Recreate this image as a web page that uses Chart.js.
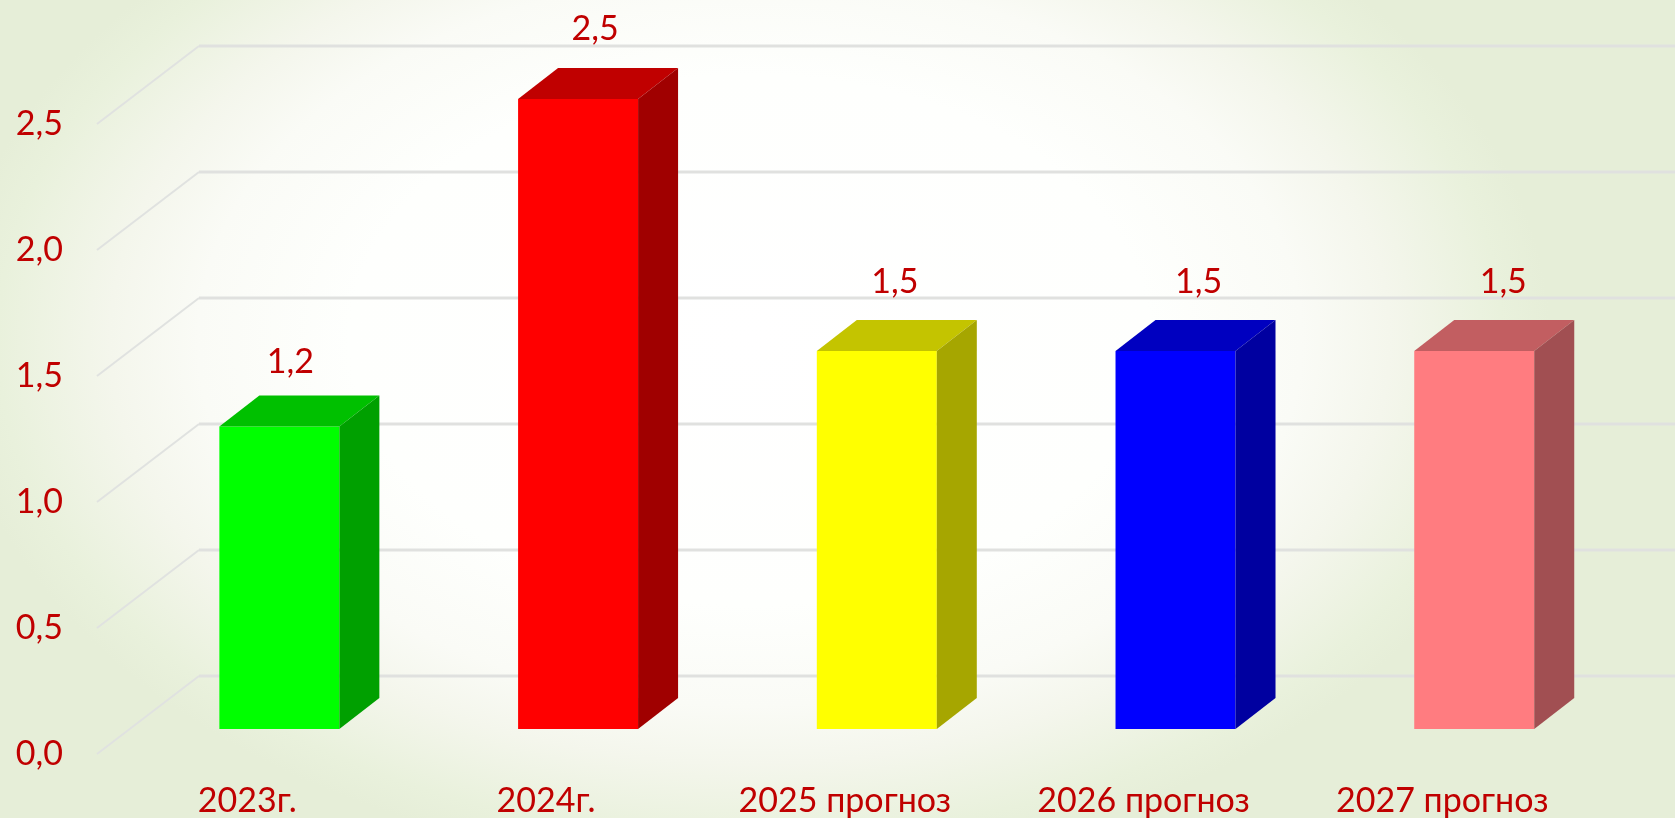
<!DOCTYPE html>
<html lang="ru">
<head>
<meta charset="utf-8">
<title>Chart</title>
<style>
html,body{margin:0;padding:0;width:1675px;height:818px;overflow:hidden;
background:radial-gradient(ellipse 800px 530px at 750px 340px,#ffffff 0%,#fefffd 50%,#fafbf6 69%,#f4f6ec 80%,#e9f1dc 94%,#e6eed8 100%) #e6eed8;}
canvas{display:block}
</style>
<script src="https://cdn.jsdelivr.net/npm/chart.js@4/dist/chart.umd.min.js"></script>
</head>
<body>
<canvas id="c" width="1675" height="818"></canvas>
<script>
const categories = ['2023г.', '2024г.', '2025 прогноз', '2026 прогноз', '2027 прогноз'];
const values = [1.2, 2.5, 1.5, 1.5, 1.5];
const frontColors = ['#00FF00', '#FF0000', '#FFFF00', '#0000FF', '#FF7C80'];
const sideColors = ['#00A000', '#A00000', '#A6A600', '#0000A0', '#A14F52'];
const topColors = ['#00C000', '#C00000', '#C4C400', '#0000C0', '#C25E61'];
const labelNudgeX = [11, 17, 18, 23, 29];
const labelNudgeY = [-65, -70, -69, -69, -69];

const TEXT = '#C00000', FONT = 'Lato, Carlito, sans-serif', SIZE = 34;
const fmt = v => Number(v).toFixed(1).replace('.', ',');

const depth = {
  plugins: {id: 'depth',
    beforeDatasetsDraw(chart) {
      const {ctx, scales: {y}, chartArea: a} = chart;
      ctx.save();
      y.ticks.forEach(t => {
        const py = y.getPixelForValue(t.value);
        ctx.strokeStyle = '#E0E2E0';
        ctx.lineWidth = 2;
        ctx.beginPath();
        ctx.moveTo(a.left - 33, py + 25);
        ctx.lineTo(a.left + 69, py - 53);
        ctx.stroke();
        ctx.lineWidth = 3;
        ctx.strokeStyle = '#E0E1DF';
        ctx.beginPath();
        ctx.moveTo(a.left + 69, py - 53);
        ctx.lineTo(chart.width, py - 53);
        ctx.stroke();
      });
      ctx.restore();
    },
    afterDatasetsDraw(chart) {
      const {ctx} = chart, bars = chart.getDatasetMeta(0).data;
      const dx = 40, dy = 31;
      ctx.save();
      bars.forEach((b, i) => {
        const l = b.x - b.width / 2, r = b.x + b.width / 2, t = b.y, f = b.base;
        ctx.fillStyle = topColors[i];
        ctx.beginPath();
        ctx.moveTo(l, t); ctx.lineTo(l + dx, t - dy); ctx.lineTo(r + dx, t - dy); ctx.lineTo(r, t);
        ctx.closePath(); ctx.fill();
        ctx.fillStyle = sideColors[i];
        ctx.beginPath();
        ctx.moveTo(r, t); ctx.lineTo(r + dx, t - dy); ctx.lineTo(r + dx, f - dy); ctx.lineTo(r, f);
        ctx.closePath(); ctx.fill();
      });
      ctx.fillStyle = TEXT;
      ctx.font = SIZE + 'px ' + FONT;
      ctx.textAlign = 'center';
      ctx.textBaseline = 'middle';
      bars.forEach((b, i) => ctx.fillText(fmt(values[i]), b.x + labelNudgeX[i], b.y + labelNudgeY[i]));
      ctx.restore();
    }
  }
};

new Chart(document.getElementById('c'), {
  type: 'bar',
  plugins: [depth.plugins],
  data: {
    labels: categories,
    datasets: [{
      data: values,
      backgroundColor: frontColors,
      borderWidth: 0,
      barPercentage: 0.4017,
      categoryPercentage: 1
    }]
  },
  options: {
    responsive: false,
    animation: false,
    layout: {padding: {top: 99, right: 51.4, bottom: 0, left: 0}},
    plugins: {legend: {display: false}, tooltip: {enabled: false}, title: {display: false}},
    scales: {
      x: {
        grid: {display: false, drawTicks: false},
        border: {display: false},
        afterFit(s) { s.height = 89; },
        ticks: {
          color: TEXT,
          font: {family: FONT, size: SIZE},
          autoSkip: false,
          maxRotation: 0,
          minRotation: 0,
          padding: 52,
          labelOffset: -32
        }
      },
      y: {
        min: 0,
        max: 2.5,
        grid: {display: false, drawTicks: false},
        border: {display: false},
        afterFit(s) { s.width = 130; },
        ticks: {
          stepSize: 0.5,
          color: TEXT,
          font: {family: FONT, size: SIZE},
          padding: 67,
          labelOffset: 25,
          callback: v => fmt(v)
        }
      }
    }
  }
});
</script>
</body>
</html>
